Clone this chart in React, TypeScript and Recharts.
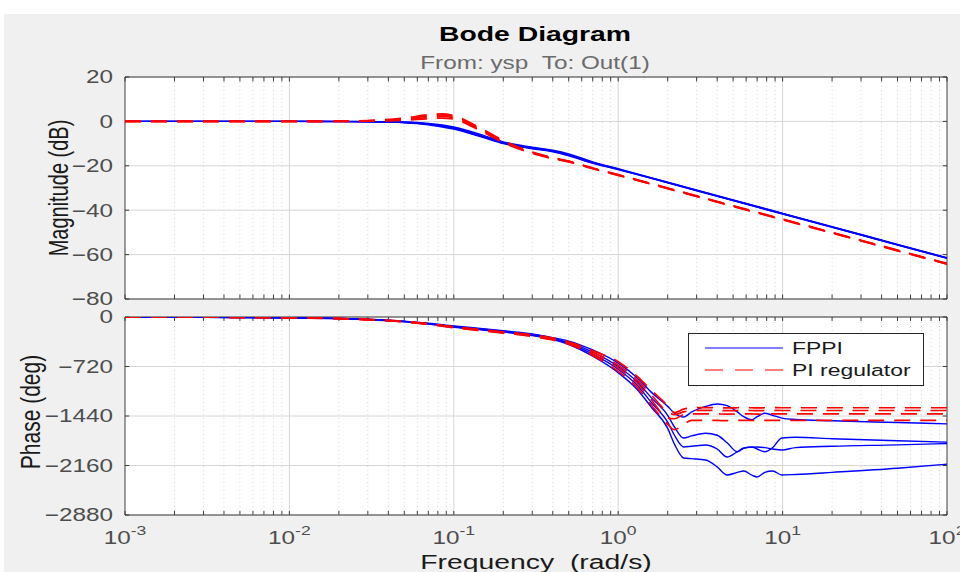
import {
  LineChart,
  Line,
  XAxis,
  YAxis,
  CartesianGrid,
  ReferenceLine,
  ReferenceArea,
} from 'recharts';

// magnitude plot, frequency in rad/s, values in dB
const freqMag = [0.001, 0.01, 0.02, 0.03, 0.05, 0.07, 0.085, 0.1, 0.15, 0.2, 0.3, 0.4, 0.5, 0.7, 1, 2, 5, 10, 20, 50, 100];
const magFppi1 = [0, 0, 0, -0.1, -0.3, -0.9, -1.6, -2.5, -6.2, -9.2, -11.6, -13.0, -14.6, -18.2, -21.3, -27.4, -35.4, -41.4, -47.4, -55.4, -61.4];
const magFppi2 = [0, 0, 0, -0.1, -0.4, -1.1, -1.9, -2.9, -6.6, -9.5, -11.9, -13.3, -15.0, -18.5, -21.5, -27.5, -35.5, -41.5, -47.5, -55.5, -61.5];
const magFppi3 = [0, 0, -0.1, -0.2, -0.5, -1.3, -2.2, -3.2, -6.9, -9.8, -12.1, -13.5, -15.3, -18.7, -21.6, -27.6, -35.6, -41.6, -47.6, -55.6, -61.6];
const magFppi4 = [0, 0, -0.1, -0.2, -0.6, -1.5, -2.5, -3.5, -7.2, -10.0, -12.3, -13.7, -15.5, -18.9, -21.7, -27.7, -35.7, -41.7, -47.7, -55.7, -61.7];
const magPi1 = [0, 0, 0.1, 0.4, 1.5, 3.0, 3.4, 2.6, -3.6, -8.6, -13.8, -16.3, -17.9, -21.0, -24.0, -30.0, -38.0, -44.0, -50.0, -58.0, -64.0];
const magPi2 = [0, 0, 0.1, 0.3, 1.1, 2.4, 2.8, 2.1, -4.0, -9.0, -14.0, -16.5, -18.0, -21.1, -24.1, -30.1, -38.1, -44.1, -50.1, -58.1, -64.1];
const magPi3 = [0, 0, 0, 0.2, 0.8, 1.8, 2.2, 1.6, -4.4, -9.3, -14.2, -16.6, -18.1, -21.2, -24.2, -30.2, -38.2, -44.2, -50.2, -58.2, -64.2];
const magPi4 = [0, 0, 0, 0.1, 0.5, 1.2, 1.5, 1.0, -4.8, -9.6, -14.4, -16.8, -18.2, -21.3, -24.3, -30.3, -38.3, -44.3, -50.3, -58.3, -64.3];

// phase plot, values in degrees
const freqPhase = [0.001, 0.003, 0.01, 0.02, 0.03, 0.05, 0.07, 0.1, 0.15, 0.2, 0.3, 0.4, 0.5, 0.7, 1, 1.3, 1.6, 2, 2.2, 2.5, 2.8, 3.4, 4, 4.6, 5.3, 5.8, 6.5, 7, 7.8, 8.7, 9.9, 12, 20, 50, 100];
const phaseFppi1 = [-1, -3, -10, -21, -33, -60, -90, -130, -170, -200, -245, -300, -350, -480, -670, -880, -1100, -1300, -1400, -1455, -1380, -1300, -1265, -1290, -1380, -1450, -1495, -1450, -1400, -1430, -1470, -1490, -1510, -1535, -1555];
const phaseFppi2 = [-1, -3, -11, -22, -35, -64, -96, -138, -178, -208, -255, -310, -370, -510, -720, -940, -1180, -1430, -1600, -1760, -1730, -1690, -1720, -1830, -1960, -1910, -1890, -1920, -1960, -1900, -1760, -1750, -1770, -1800, -1820];
const phaseFppi3 = [-1, -3, -11, -23, -37, -67, -100, -144, -184, -214, -262, -320, -385, -540, -760, -990, -1250, -1530, -1720, -1890, -1880, -1862, -1920, -2036, -1960, -1905, -1895, -1891, -1900, -1920, -1935, -1900, -1880, -1860, -1840];
const phaseFppi4 = [-1, -3, -12, -24, -39, -70, -104, -150, -190, -220, -270, -330, -400, -570, -810, -1050, -1320, -1620, -1850, -2050, -2060, -2080, -2180, -2298, -2260, -2240, -2300, -2327, -2260, -2240, -2298, -2290, -2260, -2200, -2140];
const phasePi1 = [-1, -3, -10, -22, -35, -62, -95, -140, -185, -215, -260, -305, -360, -490, -650, -860, -1070, -1290, -1390, -1340, -1320, -1318, -1320, -1322, -1320, -1318, -1320, -1322, -1320, -1318, -1320, -1320, -1320, -1320, -1320];
const phasePi2 = [-1, -3, -11, -23, -37, -66, -100, -146, -190, -222, -268, -315, -372, -510, -700, -910, -1140, -1380, -1420, -1380, -1360, -1358, -1360, -1362, -1360, -1358, -1360, -1362, -1360, -1358, -1360, -1360, -1360, -1360, -1360];
const phasePi3 = [-1, -3, -11, -24, -39, -69, -104, -150, -196, -228, -275, -325, -385, -535, -740, -960, -1210, -1470, -1480, -1420, -1410, -1408, -1410, -1412, -1410, -1408, -1410, -1412, -1410, -1408, -1410, -1410, -1410, -1410, -1410];
const phasePi4 = [-1, -3, -12, -25, -41, -72, -108, -156, -202, -234, -282, -335, -395, -560, -790, -1020, -1290, -1560, -1640, -1560, -1505, -1503, -1505, -1507, -1505, -1503, -1505, -1507, -1505, -1503, -1505, -1505, -1505, -1505, -1505];

const xMajor = [0.001, 0.01, 0.1, 1, 10, 100];
const magTicks = [-80, -60, -40, -20, 0, 20];
const phaseTicks = [-2880, -2160, -1440, -720, 0];

const magBlue = [magFppi1, magFppi2, magFppi3, magFppi4];
const magRed = [magPi1, magPi2, magPi3, magPi4];
const phaseBlue = [phaseFppi1, phaseFppi2, phaseFppi3, phaseFppi4];
const phaseRed = [phasePi1, phasePi2, phasePi3, phasePi4];

const magRows = freqMag.map((f, i) => {
  const row: Record<string, number> = { f };
  magBlue.forEach((s, k) => (row[`b${k}`] = s[i]));
  magRed.forEach((s, k) => (row[`r${k}`] = s[i]));
  return row;
});
const phaseRows = freqPhase.map((f, i) => {
  const row: Record<string, number> = { f };
  phaseBlue.forEach((s, k) => (row[`b${k}`] = s[i]));
  phaseRed.forEach((s, k) => (row[`r${k}`] = s[i]));
  return row;
});

const xMinor: number[] = [];
for (let d = 0; d < 5; d++) {
  for (let m = 2; m <= 9; m++) xMinor.push(Number((m * Math.pow(10, d - 3)).toPrecision(3)));
}

const BLUE = '#0000ff';
const RED = '#ff0000';
const AXIS = '#3c3c3c';
const GRID = '#d6d6d6';
const LABEL = '#4d4d4d';
const SX = 1.35; // the picture is stretched horizontally
const FONT = '"Liberation Sans", Arial, sans-serif';

const fmt = (v: number) => (v < 0 ? '\u2212' + Math.abs(v) : String(v));

const YTick = (props: any) => {
  const { x, y, payload } = props;
  return (
    <text
      transform={`translate(${x},${y}) scale(${SX},1)`}
      textAnchor="end"
      dy="0.36em"
      fontSize={18}
      fill={LABEL}
      fontFamily={FONT}
    >
      {fmt(payload.value)}
    </text>
  );
};

const XTick = (props: any) => {
  const { x, y, payload } = props;
  const exp = Math.round(Math.log10(payload.value));
  return (
    <text
      transform={`translate(${x},${y + 29}) scale(${SX},1)`}
      textAnchor="middle"
      fontSize={18}
      fill={LABEL}
      fontFamily={FONT}
    >
      <tspan>10</tspan>
      <tspan dy={-9} fontSize={13}>
        {exp}
      </tspan>
    </text>
  );
};

// grid, inner tick marks and frame, drawn through the chart scales
const frame = (yMin: number, yMax: number, yTicks: number[]) => {
  const tY = (yMax - yMin) * 0.02;
  const k = 1.06;
  return [
    ...xMinor.map((v) => (
      <ReferenceLine key={`mg${v}`} x={v} stroke={GRID} strokeDasharray="1 3" />
    )),
    ...xMajor.slice(1, -1).map((v) => <ReferenceLine key={`Mg${v}`} x={v} stroke={GRID} />),
    ...[...xMinor, ...xMajor].flatMap((v) => [
      <ReferenceLine key={`tt${v}`} segment={[{ x: v, y: yMax }, { x: v, y: yMax - tY }]} stroke={AXIS} />,
      <ReferenceLine key={`tb${v}`} segment={[{ x: v, y: yMin }, { x: v, y: yMin + tY }]} stroke={AXIS} />,
    ]),
    ...yTicks.flatMap((t) => [
      <ReferenceLine key={`yl${t}`} segment={[{ x: 0.001, y: t }, { x: 0.001 * k, y: t }]} stroke={AXIS} />,
      <ReferenceLine key={`yr${t}`} segment={[{ x: 100 / k, y: t }, { x: 100, y: t }]} stroke={AXIS} />,
    ]),
  ];
};

const series = (withDash: boolean) => [
  ...[0, 1, 2, 3].map((k) => (
    <Line
      key={`b${k}`}
      dataKey={`b${k}`}
      type="monotone"
      stroke={BLUE}
      strokeWidth={1.4}
      dot={false}
      isAnimationActive={false}
    />
  )),
  ...[0, 1, 2, 3].map((k) => (
    <Line
      key={`r${k}`}
      dataKey={`r${k}`}
      type="monotone"
      stroke={RED}
      strokeWidth={withDash ? 1.7 : 1.7}
      strokeDasharray="16 10"
      dot={false}
      isAnimationActive={false}
    />
  )),
];

export default function App() {
  return (
    <div
      style={{
        position: 'absolute',
        left: 0,
        top: 0,
        width: 960,
        height: 572,
        background: '#fff',
        fontFamily: FONT,
        overflow: 'hidden',
      }}
    >
      <div style={{ position: 'absolute', left: 4, top: 14, width: 956, height: 558, background: '#f0f0f0' }} />

      <div style={{ position: 'absolute', left: 0, top: 0 }}>
        <LineChart width={960} height={310} data={magRows} margin={{ top: 77, right: 13, bottom: 11, left: 0 }}>
          <CartesianGrid fill="#ffffff" fillOpacity={1} stroke={GRID} vertical={false} />
          <XAxis dataKey="f" type="number" scale="log" domain={[0.001, 100]} ticks={xMajor} allowDataOverflow hide />
          <YAxis
            type="number"
            domain={[-80, 20]}
            ticks={magTicks}
            interval={0}
            width={125}
            axisLine={false}
            tickLine={false}
            tickSize={0}
            tickMargin={12}
            tick={<YTick />}
            allowDataOverflow
          />
          {frame(-80, 20, magTicks)}
          {series(true)}
          <ReferenceArea x1={0.001} x2={100} y1={-80} y2={20} fill="none" stroke={AXIS} strokeWidth={1} ifOverflow="visible" />
        </LineChart>
      </div>

      <div style={{ position: 'absolute', left: 0, top: 300 }}>
        <LineChart width={960} height={272} data={phaseRows} margin={{ top: 17, right: 13, bottom: 0, left: 0 }}>
          <CartesianGrid fill="#ffffff" fillOpacity={1} stroke={GRID} vertical={false} />
          <XAxis
            dataKey="f"
            type="number"
            scale="log"
            domain={[0.001, 100]}
            ticks={xMajor}
            interval={0}
            height={57}
            axisLine={false}
            tickLine={false}
            tickSize={0}
            tickMargin={0}
            tick={<XTick />}
            allowDataOverflow
          />
          <YAxis
            type="number"
            domain={[-2880, 0]}
            ticks={phaseTicks}
            interval={0}
            width={125}
            axisLine={false}
            tickLine={false}
            tickSize={0}
            tickMargin={12}
            tick={<YTick />}
            allowDataOverflow
          />
          {frame(-2880, 0, phaseTicks)}
          {series(true)}
          <ReferenceArea x1={0.001} x2={100} y1={-2880} y2={0} fill="none" stroke={AXIS} strokeWidth={1} ifOverflow="visible" />
        </LineChart>
      </div>

      <svg width={960} height={572} style={{ position: 'absolute', left: 0, top: 0, pointerEvents: 'none' }} fontFamily={FONT}>
        <text transform={`translate(535,41) scale(${SX},1)`} textAnchor="middle" fontSize={21} fontWeight="bold" fill="#000">
          Bode Diagram
        </text>
        <text transform={`translate(535,69) scale(${SX},1)`} textAnchor="middle" fontSize={18} fill="#6b6b6b">
          {'From: ysp\u00a0\u00a0To: Out(1)'}
        </text>
        <text transform={`translate(68,188) scale(${SX},1) rotate(-90)`} textAnchor="middle" fontSize={20} fill="#1a1a1a">
          Magnitude (dB)
        </text>
        <text transform={`translate(40,412) scale(${SX},1) rotate(-90)`} textAnchor="middle" fontSize={21} fill="#1a1a1a">
          Phase (deg)
        </text>
        <text transform={`translate(536,569) scale(${SX},1)`} textAnchor="middle" fontSize={21} fill="#1a1a1a">
          {'Frequency\u00a0\u00a0(rad/s)'}
        </text>

        <g transform="translate(688,333)">
          <rect x={0.5} y={0.5} width={235} height={52} fill="#fff" stroke="#262626" strokeWidth={1} />
          <line x1={17} x2={95} y1={15} y2={15} stroke={BLUE} strokeWidth={1.2} />
          <text transform={`translate(104,21) scale(${SX},1)`} fontSize={17} fill="#1a1a1a">
            FPPI
          </text>
          <line x1={17} x2={95} y1={37} y2={37} stroke={RED} strokeWidth={1.2} strokeDasharray="18 12" />
          <text transform={`translate(104,43) scale(${SX},1)`} fontSize={17} fill="#1a1a1a">
            PI regulator
          </text>
        </g>
      </svg>
    </div>
  );
}
